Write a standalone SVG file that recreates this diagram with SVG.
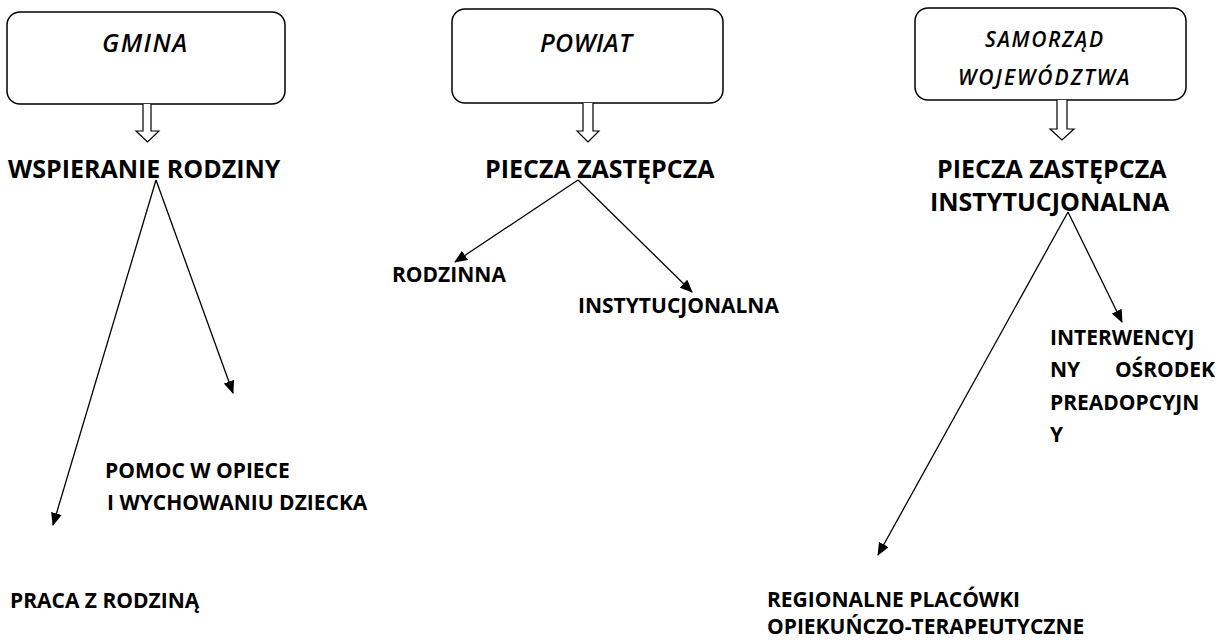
<svg xmlns="http://www.w3.org/2000/svg" width="1222" height="640" viewBox="0 0 1222 640">
<style>
.box{fill:#fff;stroke:#000;stroke-width:1.5}
.bt{font-family:"Open Sans","Liberation Sans",sans-serif;font-style:italic;font-weight:600;fill:#000}
.h{font-family:"Open Sans","Liberation Sans",sans-serif;font-weight:700;font-size:25px;fill:#000}
.s{font-family:"Open Sans","Liberation Sans",sans-serif;font-weight:700;font-size:21px;fill:#000}
.ln{stroke:#000;stroke-width:1.3;fill:none;marker-end:url(#ah)}
.ho{fill:#fff;stroke:#000;stroke-width:1.2}
</style>
<defs>
<marker id="ah" viewBox="0 0 13 11" refX="12" refY="5.5" markerWidth="13" markerHeight="11" markerUnits="userSpaceOnUse" orient="auto">
<path d="M0,0 L13,5.5 L0,11 z" fill="#000"/>
</marker>
</defs>
<rect width="1222" height="640" fill="#fff"/>
<g id="gmina">
<rect class="box" x="7" y="12" width="278" height="92" rx="13"/>
<text class="bt" x="102" y="52" font-size="25" letter-spacing="1.5">GMINA</text>
</g>
<g id="powiat">
<rect class="box" x="452" y="9" width="271" height="94" rx="13"/>
<text class="bt" x="540" y="52" font-size="25" letter-spacing="0.4">POWIAT</text>
</g>
<g id="samorzad">
<rect class="box" x="915" y="8" width="271" height="92" rx="13"/>
<text class="bt" x="985" y="47" font-size="21" letter-spacing="1.6">SAMORZĄD</text>
<text class="bt" x="958" y="85" font-size="21" letter-spacing="2">WOJEWÓDZTWA</text>
</g>
<g id="wspieranie"><text class="h" x="8" y="178">WSPIERANIE RODZINY</text></g>
<g id="piecza1"><text class="h" x="485" y="178">PIECZA ZASTĘPCZA</text></g>
<g id="piecza2"><text class="h" x="937" y="178">PIECZA ZASTĘPCZA</text><text class="h" x="930" y="211">INSTYTUCJONALNA</text></g>
<g id="rodzinna"><text class="s" x="392" y="282">RODZINNA</text></g>
<g id="instytucjonalna"><text class="s" x="578" y="313">INSTYTUCJONALNA</text></g>
<g id="interwencyjny"><text class="s" x="1050" y="345">INTERWENCYJ</text><text class="s" x="1050" y="377">NY</text><text class="s" x="1215" y="377" text-anchor="end">OŚRODEK</text><text class="s" x="1050" y="410">PREADOPCYJN</text><text class="s" x="1050" y="442">Y</text></g>
<g id="pomoc"><text class="s" x="105" y="478">POMOC W OPIECE</text><text class="s" x="107" y="510">I WYCHOWANIU DZIECKA</text></g>
<g id="praca"><text class="s" x="10" y="608">PRACA Z RODZINĄ</text></g>
<g id="regionalne"><text class="s" x="767" y="607">REGIONALNE PLACÓWKI</text><text class="s" x="767" y="634">OPIEKUŃCZO-TERAPEUTYCZNE</text></g>
<g id="connectors">
<path class="ho" d="M143,104 V131 H136 L147.5,142 L159,131 H151 V104"/>
<path class="ho" d="M583,103 V131 H577 L588,142 L599,131 H593 V103"/>
<path class="ho" d="M1057,100 V129 H1050 L1062,140 L1074,129 H1067 V100"/>
<line class="ln" x1="156" y1="180" x2="53" y2="525"/>
<line class="ln" x1="156" y1="180" x2="233" y2="393"/>
<line class="ln" x1="578" y1="180" x2="455" y2="262"/>
<line class="ln" x1="578" y1="180" x2="692" y2="292"/>
<line class="ln" x1="1068" y1="212" x2="878" y2="555"/>
<line class="ln" x1="1068" y1="212" x2="1122" y2="322"/>
</g>
</svg>
